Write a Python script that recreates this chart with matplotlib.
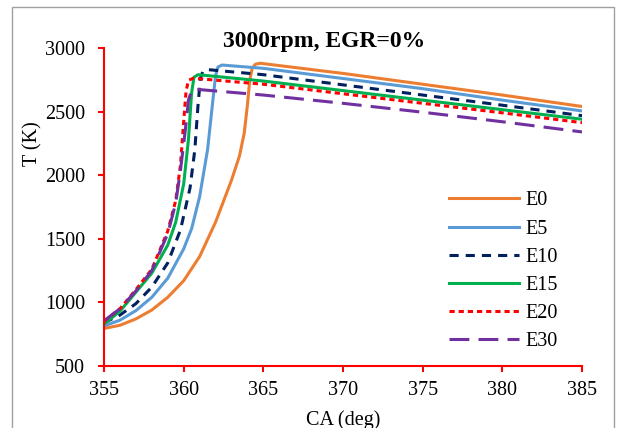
import matplotlib.pyplot as plt
from matplotlib.patches import Rectangle

plt.rcParams['font.family'] = ['Liberation Serif', 'DejaVu Serif']

labels = ['E0', 'E5', 'E10', 'E15', 'E20', 'E30']

ca_e0 = [355, 356, 357, 358, 359, 360, 361, 362, 363, 363.5, 363.8, 364.0, 364.15, 364.3, 364.5, 364.8, 370, 375, 380, 385]
t_e0 = [795, 820, 870, 940, 1040, 1170, 1360, 1630, 1960, 2150, 2330, 2550, 2750, 2840, 2872, 2880, 2800, 2715, 2630, 2540]

ca_e5 = [355, 356, 357, 358, 359, 360, 360.5, 361, 361.5, 361.8, 362.0, 362.15, 362.4, 365, 370, 375, 380, 385]
t_e5 = [815, 860, 935, 1040, 1190, 1420, 1580, 1830, 2200, 2550, 2780, 2850, 2866, 2840, 2760, 2680, 2590, 2505]

ca_e10 = [355, 356, 357, 358, 359, 359.8, 360.4, 360.7, 360.9, 361.05, 361.2, 361.5, 365, 370, 375, 380, 385]
t_e10 = [840, 900, 990, 1120, 1310, 1570, 1900, 2200, 2550, 2760, 2815, 2830, 2790, 2710, 2630, 2550, 2468]

ca_e15 = [355, 356, 357, 358, 359, 359.5, 360, 360.3, 360.5, 360.65, 360.9, 365, 370, 375, 380, 385]
t_e15 = [830, 930, 1080, 1230, 1450, 1630, 1930, 2280, 2650, 2770, 2790, 2740, 2665, 2590, 2515, 2440]

ca_e20 = [355, 356, 357, 358, 359, 359.5, 359.8, 360.0, 360.15, 360.3, 360.6, 365, 370, 375, 380, 385]
t_e20 = [850, 950, 1100, 1260, 1560, 1800, 2080, 2420, 2660, 2745, 2762, 2715, 2640, 2565, 2490, 2413]

ca_e30 = [355, 356, 357, 358, 359, 359.5, 359.8, 360.1, 360.3, 360.5, 360.8, 365, 370, 375, 380, 385]
t_e30 = [855, 950, 1090, 1250, 1540, 1780, 2040, 2350, 2590, 2665, 2675, 2630, 2565, 2495, 2420, 2340]

x_ticks = [355, 360, 365, 370, 375, 380, 385]
y_ticks = [500, 1000, 1500, 2000, 2500, 3000]

colors = ['#ED7D31', '#5B9BD5', '#002060', '#00B050', '#FF0000', '#7030A0']
styles = ['-', '-', (0, (3, 2.3)), '-', (0, (1.7, 1.3)), (0, (6.5, 3))]

fig = plt.figure(figsize=(6.22, 4.28), dpi=100)
ax = fig.add_axes([0.1672, 0.1449, 0.7685, 0.743])

# grey chart-area border (bottom edge runs off the image)
fig.patches.append(Rectangle((12 / 622, -0.05), 602 / 622, 1.05 - 7 / 428,
                             transform=fig.transFigure, fill=False,
                             edgecolor='#a0a0a0', linewidth=1.0))

series = [(ca_e0, t_e0), (ca_e5, t_e5), (ca_e10, t_e10),
          (ca_e15, t_e15), (ca_e20, t_e20), (ca_e30, t_e30)]
for (ca, t), lab, c, ls in zip(series, labels, colors, styles):
    ax.plot(ca, t, color=c, linestyle=ls, linewidth=2.2, label=lab,
            solid_joinstyle='round')

ax.set_xlim(355, 385)
ax.set_ylim(500, 3000)
ax.set_xticks(x_ticks)
ax.set_yticks(y_ticks)
ax.tick_params(colors='#FF0000', labelcolor='black', labelsize=14.5,
               direction='out', length=4.5, width=1.5)
ax.tick_params(axis='y', pad=9)
ax.tick_params(axis='x', pad=6)
for s in ['top', 'right']:
    ax.spines[s].set_visible(False)
for s in ['left', 'bottom']:
    ax.spines[s].set_color('#FF0000')
    ax.spines[s].set_linewidth(1.5)

ax.set_xlabel('CA (deg)', fontsize=14.5, labelpad=8)
ax.set_ylabel('T (K)', fontsize=14.5)
ax.yaxis.set_label_coords(-0.128, 0.70)

fig.text(324.5 / 622, 1 - 47 / 428, '3000rpm, EGR=0%', fontsize=17,
         fontweight='bold', ha='center', va='baseline')

ax.legend(loc='upper left', bbox_to_anchor=(0.683, 0.606), frameon=False,
          fontsize=14.5, handlelength=3.5, handletextpad=0.3,
          labelspacing=0.45)

fig.savefig('out.png', dpi=100)
